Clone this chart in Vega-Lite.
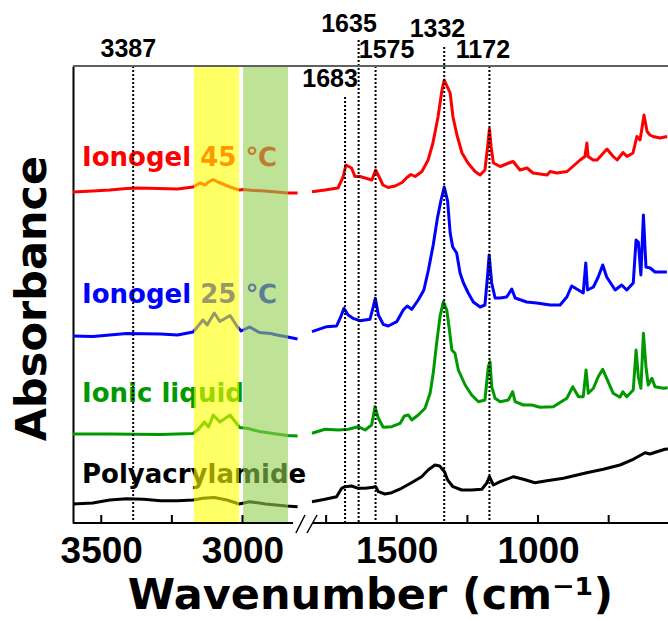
{
  "$schema": "https://vega.github.io/schema/vega-lite/v6.json",
  "autosize": "none",
  "width": 595,
  "height": 457,
  "padding": {"left": 73, "top": 66, "right": 0, "bottom": 98},
  "config": {"view": {"stroke": null}},
  "datasets": {
    "spectra": [
      {"sample":"Ionogel 45 ℃","seg":"high","wn":3600,"abs":331},{"sample":"Ionogel 45 ℃","seg":"high","wn":3530,"abs":332},{"sample":"Ionogel 45 ℃","seg":"high","wn":3470,"abs":333},{"sample":"Ionogel 45 ℃","seg":"high","wn":3410,"abs":334.5},{"sample":"Ionogel 45 ℃","seg":"high","wn":3370,"abs":335},{"sample":"Ionogel 45 ℃","seg":"high","wn":3300,"abs":334.5},{"sample":"Ionogel 45 ℃","seg":"high","wn":3230,"abs":334},{"sample":"Ionogel 45 ℃","seg":"high","wn":3175,"abs":336},{"sample":"Ionogel 45 ℃","seg":"high","wn":3150,"abs":340},{"sample":"Ionogel 45 ℃","seg":"high","wn":3133,"abs":338},{"sample":"Ionogel 45 ℃","seg":"high","wn":3120,"abs":341},{"sample":"Ionogel 45 ℃","seg":"high","wn":3104,"abs":343.5},{"sample":"Ionogel 45 ℃","seg":"high","wn":3087,"abs":341},{"sample":"Ionogel 45 ℃","seg":"high","wn":3070,"abs":339},{"sample":"Ionogel 45 ℃","seg":"high","wn":3044,"abs":336},{"sample":"Ionogel 45 ℃","seg":"high","wn":3012,"abs":333},{"sample":"Ionogel 45 ℃","seg":"high","wn":2998,"abs":333.5},{"sample":"Ionogel 45 ℃","seg":"high","wn":2960,"abs":332.5},{"sample":"Ionogel 45 ℃","seg":"high","wn":2920,"abs":332},{"sample":"Ionogel 45 ℃","seg":"high","wn":2880,"abs":331},{"sample":"Ionogel 45 ℃","seg":"high","wn":2840,"abs":330},{"sample":"Ionogel 45 ℃","seg":"high","wn":2805,"abs":330},
      {"sample":"Ionogel 45 ℃","seg":"low","wn":1800,"abs":331.3},{"sample":"Ionogel 45 ℃","seg":"low","wn":1754,"abs":333},{"sample":"Ionogel 45 ℃","seg":"low","wn":1708,"abs":335},{"sample":"Ionogel 45 ℃","seg":"low","wn":1690,"abs":346},{"sample":"Ionogel 45 ℃","seg":"low","wn":1680,"abs":358},{"sample":"Ionogel 45 ℃","seg":"low","wn":1660,"abs":355},{"sample":"Ionogel 45 ℃","seg":"low","wn":1648,"abs":346.5},{"sample":"Ionogel 45 ℃","seg":"low","wn":1630,"abs":346.5},{"sample":"Ionogel 45 ℃","seg":"low","wn":1612,"abs":345},{"sample":"Ionogel 45 ℃","seg":"low","wn":1588,"abs":343},{"sample":"Ionogel 45 ℃","seg":"low","wn":1575,"abs":353},{"sample":"Ionogel 45 ℃","seg":"low","wn":1563,"abs":346.5},{"sample":"Ionogel 45 ℃","seg":"low","wn":1549,"abs":338},{"sample":"Ionogel 45 ℃","seg":"low","wn":1531,"abs":335.5},{"sample":"Ionogel 45 ℃","seg":"low","wn":1506,"abs":337},{"sample":"Ionogel 45 ℃","seg":"low","wn":1481,"abs":340.5},{"sample":"Ionogel 45 ℃","seg":"low","wn":1464,"abs":345.5},{"sample":"Ionogel 45 ℃","seg":"low","wn":1450,"abs":348.5},{"sample":"Ionogel 45 ℃","seg":"low","wn":1435,"abs":346.5},{"sample":"Ionogel 45 ℃","seg":"low","wn":1411,"abs":351.5},{"sample":"Ionogel 45 ℃","seg":"low","wn":1389,"abs":363},{"sample":"Ionogel 45 ℃","seg":"low","wn":1372,"abs":380},{"sample":"Ionogel 45 ℃","seg":"low","wn":1354,"abs":406},{"sample":"Ionogel 45 ℃","seg":"low","wn":1340,"abs":433},{"sample":"Ionogel 45 ℃","seg":"low","wn":1332,"abs":443},{"sample":"Ionogel 45 ℃","seg":"low","wn":1311,"abs":430},{"sample":"Ionogel 45 ℃","seg":"low","wn":1301,"abs":406},{"sample":"Ionogel 45 ℃","seg":"low","wn":1287,"abs":388},{"sample":"Ionogel 45 ℃","seg":"low","wn":1269,"abs":370},{"sample":"Ionogel 45 ℃","seg":"low","wn":1248,"abs":360},{"sample":"Ionogel 45 ℃","seg":"low","wn":1223,"abs":351.5},{"sample":"Ionogel 45 ℃","seg":"low","wn":1205,"abs":348},{"sample":"Ionogel 45 ℃","seg":"low","wn":1188,"abs":353},{"sample":"Ionogel 45 ℃","seg":"low","wn":1177,"abs":380},{"sample":"Ionogel 45 ℃","seg":"low","wn":1172,"abs":394},{"sample":"Ionogel 45 ℃","seg":"low","wn":1166,"abs":376},{"sample":"Ionogel 45 ℃","seg":"low","wn":1158,"abs":360},{"sample":"Ionogel 45 ℃","seg":"low","wn":1134,"abs":356.5},{"sample":"Ionogel 45 ℃","seg":"low","wn":1099,"abs":360.5},{"sample":"Ionogel 45 ℃","seg":"low","wn":1088,"abs":361.5},{"sample":"Ionogel 45 ℃","seg":"low","wn":1064,"abs":353},{"sample":"Ionogel 45 ℃","seg":"low","wn":1039,"abs":355},{"sample":"Ionogel 45 ℃","seg":"low","wn":1018,"abs":350},{"sample":"Ionogel 45 ℃","seg":"low","wn":968,"abs":348},{"sample":"Ionogel 45 ℃","seg":"low","wn":957,"abs":351.5},{"sample":"Ionogel 45 ℃","seg":"low","wn":933,"abs":350},{"sample":"Ionogel 45 ℃","seg":"low","wn":897,"abs":351.5},{"sample":"Ionogel 45 ℃","seg":"low","wn":851,"abs":363},{"sample":"Ionogel 45 ℃","seg":"low","wn":834,"abs":366.5},{"sample":"Ionogel 45 ℃","seg":"low","wn":827,"abs":380},{"sample":"Ionogel 45 ℃","seg":"low","wn":823,"abs":366.5},{"sample":"Ionogel 45 ℃","seg":"low","wn":805,"abs":363},{"sample":"Ionogel 45 ℃","seg":"low","wn":791,"abs":363},{"sample":"Ionogel 45 ℃","seg":"low","wn":756,"abs":374},{"sample":"Ionogel 45 ℃","seg":"low","wn":734,"abs":366.5},{"sample":"Ionogel 45 ℃","seg":"low","wn":720,"abs":363},{"sample":"Ionogel 45 ℃","seg":"low","wn":699,"abs":370.5},{"sample":"Ionogel 45 ℃","seg":"low","wn":685,"abs":366.5},{"sample":"Ionogel 45 ℃","seg":"low","wn":664,"abs":370},{"sample":"Ionogel 45 ℃","seg":"low","wn":650,"abs":386.5},{"sample":"Ionogel 45 ℃","seg":"low","wn":639,"abs":383},{"sample":"Ionogel 45 ℃","seg":"low","wn":632,"abs":395},{"sample":"Ionogel 45 ℃","seg":"low","wn":625,"abs":408},{"sample":"Ionogel 45 ℃","seg":"low","wn":614,"abs":391.5},{"sample":"Ionogel 45 ℃","seg":"low","wn":604,"abs":388},{"sample":"Ionogel 45 ℃","seg":"low","wn":593,"abs":386.5},{"sample":"Ionogel 45 ℃","seg":"low","wn":568,"abs":385},{"sample":"Ionogel 45 ℃","seg":"low","wn":543,"abs":386.5},

      {"sample":"Ionogel 25 ℃","seg":"high","wn":3600,"abs":187},{"sample":"Ionogel 25 ℃","seg":"high","wn":3530,"abs":186.5},{"sample":"Ionogel 25 ℃","seg":"high","wn":3410,"abs":189.5},{"sample":"Ionogel 25 ℃","seg":"high","wn":3290,"abs":189},{"sample":"Ionogel 25 ℃","seg":"high","wn":3230,"abs":188},{"sample":"Ionogel 25 ℃","seg":"high","wn":3175,"abs":191},{"sample":"Ionogel 25 ℃","seg":"high","wn":3160,"abs":196},{"sample":"Ionogel 25 ℃","seg":"high","wn":3140,"abs":203},{"sample":"Ionogel 25 ℃","seg":"high","wn":3125,"abs":198},{"sample":"Ionogel 25 ℃","seg":"high","wn":3100,"abs":210},{"sample":"Ionogel 25 ℃","seg":"high","wn":3080,"abs":201.5},{"sample":"Ionogel 25 ℃","seg":"high","wn":3044,"abs":207.5},{"sample":"Ionogel 25 ℃","seg":"high","wn":3020,"abs":197},{"sample":"Ionogel 25 ℃","seg":"high","wn":3005,"abs":192},{"sample":"Ionogel 25 ℃","seg":"high","wn":2975,"abs":196},{"sample":"Ionogel 25 ℃","seg":"high","wn":2940,"abs":190.5},{"sample":"Ionogel 25 ℃","seg":"high","wn":2900,"abs":189.5},{"sample":"Ionogel 25 ℃","seg":"high","wn":2878,"abs":188},{"sample":"Ionogel 25 ℃","seg":"high","wn":2840,"abs":186},{"sample":"Ionogel 25 ℃","seg":"high","wn":2805,"abs":184},
      {"sample":"Ionogel 25 ℃","seg":"low","wn":1800,"abs":191.3},{"sample":"Ionogel 25 ℃","seg":"low","wn":1748,"abs":196.3},{"sample":"Ionogel 25 ℃","seg":"low","wn":1713,"abs":197},{"sample":"Ionogel 25 ℃","seg":"low","wn":1698,"abs":206.3},{"sample":"Ionogel 25 ℃","seg":"low","wn":1687,"abs":214.7},{"sample":"Ionogel 25 ℃","seg":"low","wn":1672,"abs":208},{"sample":"Ionogel 25 ℃","seg":"low","wn":1655,"abs":204.7},{"sample":"Ionogel 25 ℃","seg":"low","wn":1630,"abs":202.3},{"sample":"Ionogel 25 ℃","seg":"low","wn":1595,"abs":203.7},{"sample":"Ionogel 25 ℃","seg":"low","wn":1583,"abs":216.3},{"sample":"Ionogel 25 ℃","seg":"low","wn":1576,"abs":224.7},{"sample":"Ionogel 25 ℃","seg":"low","wn":1565,"abs":208},{"sample":"Ionogel 25 ℃","seg":"low","wn":1548,"abs":198.7},{"sample":"Ionogel 25 ℃","seg":"low","wn":1530,"abs":197},{"sample":"Ionogel 25 ℃","seg":"low","wn":1500,"abs":201.3},{"sample":"Ionogel 25 ℃","seg":"low","wn":1477,"abs":213},{"sample":"Ionogel 25 ℃","seg":"low","wn":1463,"abs":217},{"sample":"Ionogel 25 ℃","seg":"low","wn":1447,"abs":213.7},{"sample":"Ionogel 25 ℃","seg":"low","wn":1424,"abs":223},{"sample":"Ionogel 25 ℃","seg":"low","wn":1404,"abs":233},{"sample":"Ionogel 25 ℃","seg":"low","wn":1388,"abs":253},{"sample":"Ionogel 25 ℃","seg":"low","wn":1371,"abs":278},{"sample":"Ionogel 25 ℃","seg":"low","wn":1356,"abs":305},{"sample":"Ionogel 25 ℃","seg":"low","wn":1344,"abs":322},{"sample":"Ionogel 25 ℃","seg":"low","wn":1332,"abs":336},{"sample":"Ionogel 25 ℃","seg":"low","wn":1320,"abs":322},{"sample":"Ionogel 25 ℃","seg":"low","wn":1311,"abs":290},{"sample":"Ionogel 25 ℃","seg":"low","wn":1302,"abs":276},{"sample":"Ionogel 25 ℃","seg":"low","wn":1288,"abs":270},{"sample":"Ionogel 25 ℃","seg":"low","wn":1276,"abs":250},{"sample":"Ionogel 25 ℃","seg":"low","wn":1264,"abs":240},{"sample":"Ionogel 25 ℃","seg":"low","wn":1247,"abs":230},{"sample":"Ionogel 25 ℃","seg":"low","wn":1229,"abs":221},{"sample":"Ionogel 25 ℃","seg":"low","wn":1205,"abs":216},{"sample":"Ionogel 25 ℃","seg":"low","wn":1188,"abs":218},{"sample":"Ionogel 25 ℃","seg":"low","wn":1179,"abs":246},{"sample":"Ionogel 25 ℃","seg":"low","wn":1173,"abs":268},{"sample":"Ionogel 25 ℃","seg":"low","wn":1164,"abs":240},{"sample":"Ionogel 25 ℃","seg":"low","wn":1152,"abs":225},{"sample":"Ionogel 25 ℃","seg":"low","wn":1134,"abs":225},{"sample":"Ionogel 25 ℃","seg":"low","wn":1111,"abs":226},{"sample":"Ionogel 25 ℃","seg":"low","wn":1093,"abs":234},{"sample":"Ionogel 25 ℃","seg":"low","wn":1081,"abs":225},{"sample":"Ionogel 25 ℃","seg":"low","wn":1040,"abs":221},{"sample":"Ionogel 25 ℃","seg":"low","wn":1005,"abs":220},{"sample":"Ionogel 25 ℃","seg":"low","wn":957,"abs":218},{"sample":"Ionogel 25 ℃","seg":"low","wn":922,"abs":218},{"sample":"Ionogel 25 ℃","seg":"low","wn":898,"abs":226},{"sample":"Ionogel 25 ℃","seg":"low","wn":881,"abs":237},{"sample":"Ionogel 25 ℃","seg":"low","wn":863,"abs":234},{"sample":"Ionogel 25 ℃","seg":"low","wn":840,"abs":230},{"sample":"Ionogel 25 ℃","seg":"low","wn":831,"abs":260},{"sample":"Ionogel 25 ℃","seg":"low","wn":825,"abs":233},{"sample":"Ionogel 25 ℃","seg":"low","wn":804,"abs":236},{"sample":"Ionogel 25 ℃","seg":"low","wn":787,"abs":246},{"sample":"Ionogel 25 ℃","seg":"low","wn":771,"abs":258},{"sample":"Ionogel 25 ℃","seg":"low","wn":757,"abs":246},{"sample":"Ionogel 25 ℃","seg":"low","wn":727,"abs":233},{"sample":"Ionogel 25 ℃","seg":"low","wn":704,"abs":238},{"sample":"Ionogel 25 ℃","seg":"low","wn":686,"abs":233},{"sample":"Ionogel 25 ℃","seg":"low","wn":663,"abs":240},{"sample":"Ionogel 25 ℃","seg":"low","wn":653,"abs":283},{"sample":"Ionogel 25 ℃","seg":"low","wn":645,"abs":281},{"sample":"Ionogel 25 ℃","seg":"low","wn":636,"abs":248},{"sample":"Ionogel 25 ℃","seg":"low","wn":627,"abs":308},{"sample":"Ionogel 25 ℃","seg":"low","wn":618,"abs":256},{"sample":"Ionogel 25 ℃","seg":"low","wn":603,"abs":255},{"sample":"Ionogel 25 ℃","seg":"low","wn":586,"abs":251},{"sample":"Ionogel 25 ℃","seg":"low","wn":544,"abs":251},

      {"sample":"Ionic liquid","seg":"high","wn":3600,"abs":89},{"sample":"Ionic liquid","seg":"high","wn":3470,"abs":89},{"sample":"Ionic liquid","seg":"high","wn":3290,"abs":88.5},{"sample":"Ionic liquid","seg":"high","wn":3175,"abs":89.5},{"sample":"Ionic liquid","seg":"high","wn":3155,"abs":94},{"sample":"Ionic liquid","seg":"high","wn":3135,"abs":101},{"sample":"Ionic liquid","seg":"high","wn":3120,"abs":96},{"sample":"Ionic liquid","seg":"high","wn":3104,"abs":108},{"sample":"Ionic liquid","seg":"high","wn":3080,"abs":101},{"sample":"Ionic liquid","seg":"high","wn":3044,"abs":108},{"sample":"Ionic liquid","seg":"high","wn":3010,"abs":95.5},{"sample":"Ionic liquid","seg":"high","wn":2980,"abs":94.5},{"sample":"Ionic liquid","seg":"high","wn":2940,"abs":91.5},{"sample":"Ionic liquid","seg":"high","wn":2880,"abs":89},{"sample":"Ionic liquid","seg":"high","wn":2840,"abs":87.5},{"sample":"Ionic liquid","seg":"high","wn":2805,"abs":87},
      {"sample":"Ionic liquid","seg":"low","wn":1800,"abs":89.7},{"sample":"Ionic liquid","seg":"low","wn":1754,"abs":93.7},{"sample":"Ionic liquid","seg":"low","wn":1707,"abs":93},{"sample":"Ionic liquid","seg":"low","wn":1672,"abs":93.7},{"sample":"Ionic liquid","seg":"low","wn":1636,"abs":96.3},{"sample":"Ionic liquid","seg":"low","wn":1612,"abs":93},{"sample":"Ionic liquid","seg":"low","wn":1589,"abs":98},{"sample":"Ionic liquid","seg":"low","wn":1577,"abs":116.3},{"sample":"Ionic liquid","seg":"low","wn":1565,"abs":104.7},{"sample":"Ionic liquid","seg":"low","wn":1548,"abs":95.7},{"sample":"Ionic liquid","seg":"low","wn":1518,"abs":96.3},{"sample":"Ionic liquid","seg":"low","wn":1488,"abs":99.7},{"sample":"Ionic liquid","seg":"low","wn":1473,"abs":107},{"sample":"Ionic liquid","seg":"low","wn":1459,"abs":108},{"sample":"Ionic liquid","seg":"low","wn":1447,"abs":103},{"sample":"Ionic liquid","seg":"low","wn":1424,"abs":108},{"sample":"Ionic liquid","seg":"low","wn":1400,"abs":114.7},{"sample":"Ionic liquid","seg":"low","wn":1382,"abs":129.7},{"sample":"Ionic liquid","seg":"low","wn":1371,"abs":149.7},{"sample":"Ionic liquid","seg":"low","wn":1359,"abs":179.7},{"sample":"Ionic liquid","seg":"low","wn":1347,"abs":206.3},{"sample":"Ionic liquid","seg":"low","wn":1335,"abs":221.3},{"sample":"Ionic liquid","seg":"low","wn":1323,"abs":213},{"sample":"Ionic liquid","seg":"low","wn":1315,"abs":196.3},{"sample":"Ionic liquid","seg":"low","wn":1305,"abs":173},{"sample":"Ionic liquid","seg":"low","wn":1294,"abs":169.7},{"sample":"Ionic liquid","seg":"low","wn":1282,"abs":153},{"sample":"Ionic liquid","seg":"low","wn":1258,"abs":138},{"sample":"Ionic liquid","seg":"low","wn":1235,"abs":128},{"sample":"Ionic liquid","seg":"low","wn":1211,"abs":121.3},{"sample":"Ionic liquid","seg":"low","wn":1188,"abs":123},{"sample":"Ionic liquid","seg":"low","wn":1176,"abs":156.3},{"sample":"Ionic liquid","seg":"low","wn":1170,"abs":161.3},{"sample":"Ionic liquid","seg":"low","wn":1164,"abs":136.3},{"sample":"Ionic liquid","seg":"low","wn":1152,"abs":124.7},{"sample":"Ionic liquid","seg":"low","wn":1134,"abs":121.3},{"sample":"Ionic liquid","seg":"low","wn":1105,"abs":123},{"sample":"Ionic liquid","seg":"low","wn":1090,"abs":131.3},{"sample":"Ionic liquid","seg":"low","wn":1081,"abs":121.3},{"sample":"Ionic liquid","seg":"low","wn":1052,"abs":118},{"sample":"Ionic liquid","seg":"low","wn":1022,"abs":118},{"sample":"Ionic liquid","seg":"low","wn":993,"abs":115.7},{"sample":"Ionic liquid","seg":"low","wn":946,"abs":116.3},{"sample":"Ionic liquid","seg":"low","wn":898,"abs":124.7},{"sample":"Ionic liquid","seg":"low","wn":877,"abs":136.3},{"sample":"Ionic liquid","seg":"low","wn":857,"abs":126.3},{"sample":"Ionic liquid","seg":"low","wn":840,"abs":126.3},{"sample":"Ionic liquid","seg":"low","wn":830,"abs":153},{"sample":"Ionic liquid","seg":"low","wn":822,"abs":129.7},{"sample":"Ionic liquid","seg":"low","wn":804,"abs":134.7},{"sample":"Ionic liquid","seg":"low","wn":787,"abs":146.3},{"sample":"Ionic liquid","seg":"low","wn":771,"abs":153.7},{"sample":"Ionic liquid","seg":"low","wn":757,"abs":144.7},{"sample":"Ionic liquid","seg":"low","wn":734,"abs":129.7},{"sample":"Ionic liquid","seg":"low","wn":710,"abs":125.7},{"sample":"Ionic liquid","seg":"low","wn":700,"abs":131.3},{"sample":"Ionic liquid","seg":"low","wn":686,"abs":126.3},{"sample":"Ionic liquid","seg":"low","wn":663,"abs":133},{"sample":"Ionic liquid","seg":"low","wn":653,"abs":173},{"sample":"Ionic liquid","seg":"low","wn":645,"abs":146.3},{"sample":"Ionic liquid","seg":"low","wn":636,"abs":134.7},{"sample":"Ionic liquid","seg":"low","wn":627,"abs":189.7},{"sample":"Ionic liquid","seg":"low","wn":618,"abs":156.3},{"sample":"Ionic liquid","seg":"low","wn":610,"abs":138},{"sample":"Ionic liquid","seg":"low","wn":597,"abs":144.7},{"sample":"Ionic liquid","seg":"low","wn":586,"abs":136.3},{"sample":"Ionic liquid","seg":"low","wn":556,"abs":134.7},{"sample":"Ionic liquid","seg":"low","wn":541,"abs":135.3},

      {"sample":"Polyacrylamide","seg":"high","wn":3600,"abs":19},{"sample":"Polyacrylamide","seg":"high","wn":3530,"abs":20},{"sample":"Polyacrylamide","seg":"high","wn":3470,"abs":23},{"sample":"Polyacrylamide","seg":"high","wn":3410,"abs":24.3},{"sample":"Polyacrylamide","seg":"high","wn":3350,"abs":23.7},{"sample":"Polyacrylamide","seg":"high","wn":3290,"abs":22.3},{"sample":"Polyacrylamide","seg":"high","wn":3230,"abs":22.3},{"sample":"Polyacrylamide","seg":"high","wn":3175,"abs":23},{"sample":"Polyacrylamide","seg":"high","wn":3140,"abs":24.7},{"sample":"Polyacrylamide","seg":"high","wn":3100,"abs":25.5},{"sample":"Polyacrylamide","seg":"high","wn":3055,"abs":23},{"sample":"Polyacrylamide","seg":"high","wn":3012,"abs":19},{"sample":"Polyacrylamide","seg":"high","wn":2975,"abs":21.3},{"sample":"Polyacrylamide","seg":"high","wn":2918,"abs":19},{"sample":"Polyacrylamide","seg":"high","wn":2845,"abs":17},{"sample":"Polyacrylamide","seg":"high","wn":2805,"abs":16.3},
      {"sample":"Polyacrylamide","seg":"low","wn":1800,"abs":21.3},{"sample":"Polyacrylamide","seg":"low","wn":1754,"abs":23.7},{"sample":"Polyacrylamide","seg":"low","wn":1713,"abs":26.3},{"sample":"Polyacrylamide","seg":"low","wn":1695,"abs":34.7},{"sample":"Polyacrylamide","seg":"low","wn":1683,"abs":36.3},{"sample":"Polyacrylamide","seg":"low","wn":1660,"abs":37},{"sample":"Polyacrylamide","seg":"low","wn":1636,"abs":34.7},{"sample":"Polyacrylamide","seg":"low","wn":1612,"abs":34.7},{"sample":"Polyacrylamide","seg":"low","wn":1583,"abs":35.7},{"sample":"Polyacrylamide","seg":"low","wn":1575,"abs":36.5},{"sample":"Polyacrylamide","seg":"low","wn":1565,"abs":31.3},{"sample":"Polyacrylamide","seg":"low","wn":1542,"abs":29},{"sample":"Polyacrylamide","seg":"low","wn":1518,"abs":30.3},{"sample":"Polyacrylamide","seg":"low","wn":1483,"abs":34.7},{"sample":"Polyacrylamide","seg":"low","wn":1448,"abs":40.3},{"sample":"Polyacrylamide","seg":"low","wn":1412,"abs":46.3},{"sample":"Polyacrylamide","seg":"low","wn":1389,"abs":53},{"sample":"Polyacrylamide","seg":"low","wn":1365,"abs":58},{"sample":"Polyacrylamide","seg":"low","wn":1348,"abs":57},{"sample":"Polyacrylamide","seg":"low","wn":1331,"abs":51.3},{"sample":"Polyacrylamide","seg":"low","wn":1320,"abs":43},{"sample":"Polyacrylamide","seg":"low","wn":1301,"abs":36.3},{"sample":"Polyacrylamide","seg":"low","wn":1270,"abs":33},{"sample":"Polyacrylamide","seg":"low","wn":1235,"abs":33},{"sample":"Polyacrylamide","seg":"low","wn":1199,"abs":33.7},{"sample":"Polyacrylamide","seg":"low","wn":1182,"abs":39.7},{"sample":"Polyacrylamide","seg":"low","wn":1172,"abs":46.3},{"sample":"Polyacrylamide","seg":"low","wn":1158,"abs":38},{"sample":"Polyacrylamide","seg":"low","wn":1134,"abs":41.3},{"sample":"Polyacrylamide","seg":"low","wn":1087,"abs":46.3},{"sample":"Polyacrylamide","seg":"low","wn":1052,"abs":43.7},{"sample":"Polyacrylamide","seg":"low","wn":1011,"abs":40.3},{"sample":"Polyacrylamide","seg":"low","wn":969,"abs":42.3},{"sample":"Polyacrylamide","seg":"low","wn":910,"abs":44.7},{"sample":"Polyacrylamide","seg":"low","wn":828,"abs":50.3},{"sample":"Polyacrylamide","seg":"low","wn":769,"abs":53.7},{"sample":"Polyacrylamide","seg":"low","wn":710,"abs":58},{"sample":"Polyacrylamide","seg":"low","wn":663,"abs":63.7},{"sample":"Polyacrylamide","seg":"low","wn":621,"abs":70.3},{"sample":"Polyacrylamide","seg":"low","wn":604,"abs":69},{"sample":"Polyacrylamide","seg":"low","wn":551,"abs":73.7},{"sample":"Polyacrylamide","seg":"low","wn":540,"abs":74}
    ],
    "names": [
      {"sample": "Ionogel 45 ℃", "wn": 3568, "abs": 357},
      {"sample": "Ionogel 25 ℃", "wn": 3568, "abs": 220},
      {"sample": "Ionic liquid", "wn": 3568, "abs": 121},
      {"sample": "Polyacrylamide", "wn": 3568, "abs": 40}
    ],
    "bands": [
      {"band": "A", "from": 3172, "to": 3012},
      {"band": "B", "from": 2998, "to": 2839}
    ],
    "peaks": [
      {"wn": 3387, "top": 457, "lx": 3404, "ly": 474},
      {"wn": 1683, "top": 426, "lx": 1736, "ly": 444},
      {"wn": 1635, "top": 483, "lx": 1669, "ly": 499},
      {"wn": 1575, "top": 457, "lx": 1536, "ly": 473},
      {"wn": 1332, "top": 476, "lx": 1356, "ly": 494},
      {"wn": 1172, "top": 457, "lx": 1195, "ly": 473}
    ],
    "ticks": [
      {"wn": 3500, "lo": 0, "hi": 8},
      {"wn": 3250, "lo": 0, "hi": 8},
      {"wn": 3000, "lo": 0, "hi": 8},
      {"wn": 1750, "lo": 0, "hi": 8},
      {"wn": 1500, "lo": 0, "hi": 8},
      {"wn": 1250, "lo": 0, "hi": 8},
      {"wn": 1000, "lo": 0, "hi": 8},
      {"wn": 750, "lo": 0, "hi": 8}
    ],
    "frame": [
      {"from": 3600, "to": 540, "level": 457}
    ],
    "baseline": [
      {"from": 3600, "to": 2821, "level": 0},
      {"from": 1797, "to": 540, "level": 0}
    ],
    "breaks": [
      {"x1": 2811, "y1": -10, "x2": 2339, "y2": 8},
      {"x1": 2185, "y1": -10, "x2": 1782, "y2": 8}
    ]
  },
  "layer": [
    {
      "data": {"name": "spectra"},
      "mark": {"type": "line", "strokeWidth": 3, "strokeJoin": "round"},
      "encoding": {
        "x": {
          "field": "wn", "type": "quantitative",
          "scale": {"domain": [3600, 2800, 1800, 540], "range": [0, 226, 239, 595], "nice": false, "zero": false},
          "axis": {
            "values": [3500, 3000, 1500, 1000],
            "format": "d",
            "domain": false, "grid": false, "ticks": false,
            "labelFont": "Liberation Sans", "labelFontSize": 37, "labelFontWeight": "bold", "labelColor": "black",
            "labelBaseline": "alphabetic", "labelPadding": 39, "labelFlush": false, "labelOverlap": false,
            "title": "Wavenumber (cm⁻¹)",
            "titleFont": "DejaVu Sans", "titleFontSize": 43, "titleFontWeight": "bold", "titleColor": "black",
            "titleBaseline": "alphabetic", "titleY": 85, "titleX": 297
          }
        },
        "y": {
          "field": "abs", "type": "quantitative",
          "scale": {"domain": [0, 457], "nice": false, "zero": false},
          "axis": {
            "domain": true, "domainColor": "black", "domainWidth": 2,
            "ticks": false, "labels": false, "grid": false,
            "title": "Absorbance",
            "titleFont": "DejaVu Sans", "titleFontSize": 43, "titleFontWeight": "bold", "titleColor": "black",
            "titleAngle": 270, "titleAlign": "center", "titleBaseline": "alphabetic",
            "titleX": -28, "titleY": 232
          }
        },
        "color": {
          "field": "sample", "type": "nominal",
          "scale": {"domain": ["Ionogel 45 ℃", "Ionogel 25 ℃", "Ionic liquid", "Polyacrylamide"], "range": ["#FF0000", "#0000FF", "#009A00", "#000000"]},
          "legend": null
        },
        "detail": {"field": "seg", "type": "nominal"}
      }
    },
    {
      "data": {"name": "names"},
      "mark": {"type": "text", "align": "left", "baseline": "alphabetic", "font": "DejaVu Sans", "fontSize": 26, "fontWeight": "bold"},
      "encoding": {
        "x": {"field": "wn", "type": "quantitative"},
        "y": {"field": "abs", "type": "quantitative"},
        "text": {"field": "sample", "type": "nominal"},
        "color": {"field": "sample", "type": "nominal", "legend": null}
      }
    },
    {
      "data": {"name": "bands"},
      "mark": {"type": "rect", "opacity": 0.6, "y": 0, "y2": 457},
      "encoding": {
        "x": {"field": "from", "type": "quantitative"},
        "x2": {"field": "to"},
        "fill": {"field": "band", "type": "nominal", "scale": {"domain": ["A", "B"], "range": ["#FFFF00", "#92D050"]}, "legend": null}
      }
    },
    {
      "data": {"name": "peaks"},
      "mark": {"type": "rule", "color": "black", "strokeWidth": 2, "strokeDash": [2, 2]},
      "encoding": {
        "x": {"field": "wn", "type": "quantitative"},
        "y": {"field": "top", "type": "quantitative"},
        "y2": {"datum": 0}
      }
    },
    {
      "data": {"name": "peaks"},
      "mark": {"type": "text", "align": "center", "baseline": "middle", "font": "Liberation Sans", "fontSize": 25, "fontWeight": "bold", "color": "black"},
      "encoding": {
        "x": {"field": "lx", "type": "quantitative"},
        "y": {"field": "ly", "type": "quantitative"},
        "text": {"field": "wn", "type": "quantitative", "format": "d"}
      }
    },
    {
      "data": {"name": "ticks"},
      "mark": {"type": "rule", "color": "black", "strokeWidth": 2},
      "encoding": {
        "x": {"field": "wn", "type": "quantitative"},
        "y": {"field": "lo", "type": "quantitative"},
        "y2": {"field": "hi"}
      }
    },
    {
      "data": {"name": "frame"},
      "mark": {"type": "rule", "color": "#606060", "strokeWidth": 2},
      "encoding": {
        "x": {"field": "from", "type": "quantitative"},
        "x2": {"field": "to"},
        "y": {"field": "level", "type": "quantitative"}
      }
    },
    {
      "data": {"name": "baseline"},
      "mark": {"type": "rule", "color": "black", "strokeWidth": 2},
      "encoding": {
        "x": {"field": "from", "type": "quantitative"},
        "x2": {"field": "to"},
        "y": {"field": "level", "type": "quantitative"}
      }
    },
    {
      "data": {"name": "breaks"},
      "mark": {"type": "rule", "color": "black", "strokeWidth": 1.5},
      "encoding": {
        "x": {"field": "x1", "type": "quantitative"},
        "x2": {"field": "x2"},
        "y": {"field": "y1", "type": "quantitative"},
        "y2": {"field": "y2"}
      }
    }
  ]
}
